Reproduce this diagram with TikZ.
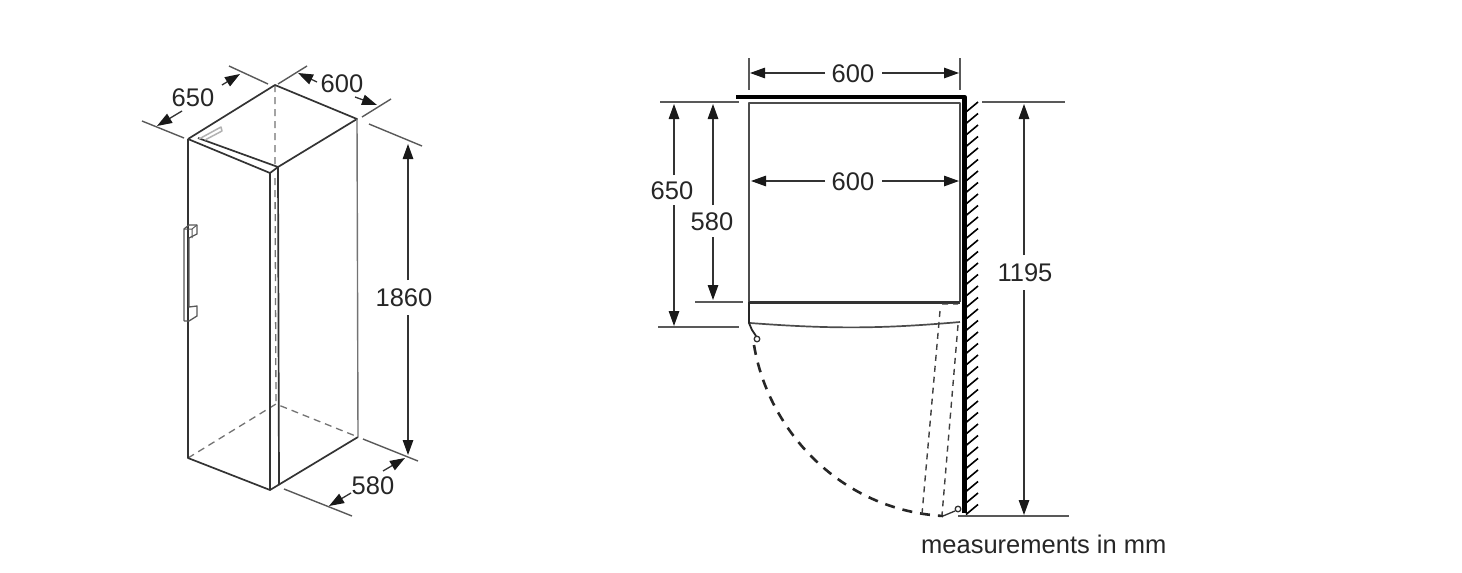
\documentclass[tikz,border=0pt]{standalone}
\usepackage{fontspec}
\setmainfont{Liberation Sans}
\usetikzlibrary{arrows.meta}
\tikzset{
	dimline/.style={draw=black!80,line width=1.3pt,-{Triangle[length=15pt,width=10.5pt,color=black!90]}},
	tickline/.style={draw=black!65,line width=1.4pt},
	bodyline/.style={draw=black!80,line width=1.7pt},
	hiddenline/.style={draw=black!55,line width=1.3pt,dash pattern=on 7pt off 5pt},
	dimlabel/.style={font=\fontsize{25.5}{26}\selectfont,text=black!85,inner sep=0pt}
}
\begin{document}
\begin{tikzpicture}[x=1pt,y=-1pt,line join=round,line cap=butt,>=stealth]
	\useasboundingbox (0,0) rectangle (1462,573);
	\fill[white] (0,0) rectangle (1462,573);
	% cabinet
	\coordinate (A) at (275,85);
	\coordinate (B) at (357,119);
	\coordinate (C) at (188,139);
	\coordinate (D) at (278,167);
	\coordinate (E) at (270,173);
	\coordinate (F) at (188,458);
	\coordinate (G) at (270,490);
	\coordinate (H) at (358,437);
	\coordinate (K) at (276,404);
	\coordinate (L) at (279,485);
	\draw[hiddenline] (A) -- (275,166) (275,178) -- (K);
	\draw[hiddenline] (F) -- (K) -- (H);
	\draw[bodyline] (C) -- (A) -- (B) -- (D) -- (198,138) (C) -- (E) -- (D);
	\draw[bodyline] (C) -- (F) -- (G) -- (H);
	\draw[bodyline] (E) -- (G) (D) -- (L);
	\draw[tickline,draw=black!55] (B) -- (H);
	% top grip and handle
	\draw[draw=black!30,line width=1.5pt] (199,139) -- (221,127) -- (222,131) -- (205,140);
	\draw[draw=black!65,line width=1.3pt] (184,321) -- (184,229) -- (189,225) -- (197,225) -- (197,234) -- (189,238) -- (189,307) -- (197,306) -- (197,316) -- (189,321) -- (184,321);
	\draw[draw=black!65,line width=1pt] (184,229) -- (192,229) -- (197,225) (192,229) -- (192,238);
	% plan
	\coordinate (P) at (749,103);
	\coordinate (Q) at (960,103);
	\coordinate (R) at (749,302);
	\coordinate (S) at (960,302);
	\draw[draw=black!70,line width=1.6pt] (R) -- (P) -- (Q) -- (S);
	\draw[draw=black,line width=4.5pt] (736,97) -- (964.5,97) -- (964.5,513);
	\draw[draw=black!80,line width=3pt] (R) -- (S);
	\foreach\y in {0,...,35}{
		\draw[line width=1.6pt] (966,{112+\y*11.5}) -- (978,{102+\y*11.5});
	};
	\draw[draw=black!85,line width=1.8pt] (749,302) -- (749,323) -- (752,330) -- (756,336);
	\draw[draw=black!70,line width=1.7pt] (750,323) .. controls (830,329) and (880,329) .. (960,322);
	\draw[draw=black!80,line width=1.3pt] (757,339) circle (2.8pt);
	\draw[draw=black!80,line width=1.3pt] (958,509) circle (2.8pt);
	\draw[draw=black!80,line width=1.3pt] (943,516) -- (955,511);
	\draw[draw=black!85,line width=2.6pt,dash pattern=on 10pt off 8pt] (754,345) .. controls (768,430) and (840,510) .. (943,516);
	\draw[draw=black!75,line width=1.4pt,dash pattern=on 6pt off 5pt] (942,304) -- (958,304) (940,311) -- (922,514) (958,325) -- (942,515);
	% dimensions
	\draw[tickline] (142,121) -- (184,138) (229,66) -- (268,84);
	\draw[tickline] (278,84) -- (307,66) (362,117) -- (391,99);
	\draw[tickline] (369,124) -- (422,146) (363,439) -- (418,461) (284,489) -- (352,516);
	\draw[tickline] (749,58) -- (749,90) (960,58) -- (960,90);
	\draw[tickline] (660,102) -- (739,102) (982,102) -- (1065,102);
	\draw[tickline] (695,302) -- (743,302) (658,327) -- (739,327) (958,516) -- (1069,516);
	% labels
	\foreach\n/\x/\y/\t in {a/193/98/650, b/342/84/600, c/404/298/1860, d/373/486/580, e/853/74/600, f/853/182/600, g/672/191/650, h/712/222/580, i/1025/273/1195}{
		\node[dimlabel] (\n) at (\x,\y) {\t};
	};
	\node[dimlabel,anchor=west] (unit) at (921,544) {measurements in mm};
	% arrows
	\foreach\p/\q in {{182,111}/{157,126}, {222,85}/{240,74}, {317,82}/{298,73}, {355,97}/{377,105},
		{408,280}/{408,144}, {408,315}/{408,455}, {383,471}/{405,458}, {351,493}/{329,506},
		{825,73}/{750,73}, {882,73}/{959,73}, {825,181}/{751,181}, {882,181}/{959,181},
		{674,175}/{674,104}, {674,205}/{674,326}, {713,205}/{713,104}, {713,237}/{713,300},
		{1024,255}/{1024,104}, {1024,290}/{1024,515}}{
		\draw[dimline] (\p) -- (\q);
	};
\end{tikzpicture}
\end{document}
